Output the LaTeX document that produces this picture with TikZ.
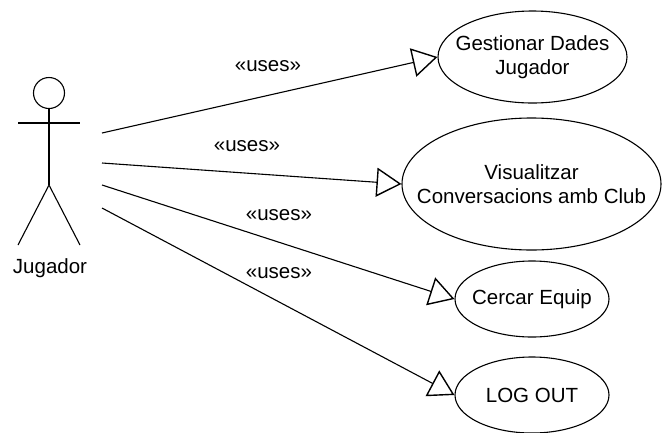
\documentclass[tikz,border=0pt]{standalone}
\usepackage{fontspec}
\setmainfont{Liberation Sans}
\usetikzlibrary{shapes.geometric,arrows.meta}
\begin{document}
\begin{tikzpicture}[x=1pt,y=-1pt,
  usecase/.style={ellipse,draw,line width=1.1pt,inner sep=0pt},
  uctext/.style={align=center,inner sep=0pt,font=\fontsize{20.5}{24}\selectfont},
  uses/.style={line width=1.1pt,-{Triangle[open,length=25pt,width=29pt,line width=1.4pt]}},
  lbl/.style={font=\fontsize{20.5}{24}\selectfont,inner sep=0pt},
  actorline/.style={line width=1.1pt}]
\useasboundingbox (0,0) rectangle (662,432);
% actor
\node[draw,circle,line width=1.1pt,minimum size=31pt,inner sep=0pt] (head) at (49,93) {};
\coordinate (hip) at (49,185);
\coordinate (lh) at (18,123);
\coordinate (rh) at (80,123);
\coordinate (lf) at (18,245);
\coordinate (rf) at (80,245);
\draw[actorline] (head.south) -- (hip);
\draw[actorline] (lh) -- (rh);
\draw[actorline] (lf) -- (hip) -- (rf);
\node[lbl] (actor) at (50,268) {Jugador};
% use cases
\node[usecase,minimum width=189pt,minimum height=92pt,
  label={[uctext]center:{Gestionar Dades\\Jugador}}] (uc1) at (532.5,57) {};
\node[usecase,minimum width=259pt,minimum height=132pt,
  label={[uctext]center:{Visualitzar\\Conversacions amb Club}}] (uc2) at (531.5,184) {};
\node[usecase,minimum width=154pt,minimum height=76pt,
  label={[uctext]center:{Cercar Equip}}] (uc3) at (532,299) {};
\node[usecase,minimum width=154pt,minimum height=76pt,
  label={[uctext]center:{LOG OUT}}] (uc4) at (532,395) {};
% connectors
\coordinate (s1) at (102,133);
\coordinate (s2) at (102,163);
\coordinate (s3) at (102,185);
\coordinate (s4) at (102,208);
\draw[uses] (s1) -- (uc1.west);
\draw[uses] (s2) -- (uc2.west);
\draw[uses] (s3) -- (uc3.west);
\draw[uses] (s4) -- (uc4.west);
\node[lbl] (l1) at (268,66) {«uses»};
\node[lbl] (l2) at (247,146) {«uses»};
\node[lbl] (l3) at (279,215) {«uses»};
\node[lbl] (l4) at (279,273) {«uses»};
\end{tikzpicture}
\end{document}
